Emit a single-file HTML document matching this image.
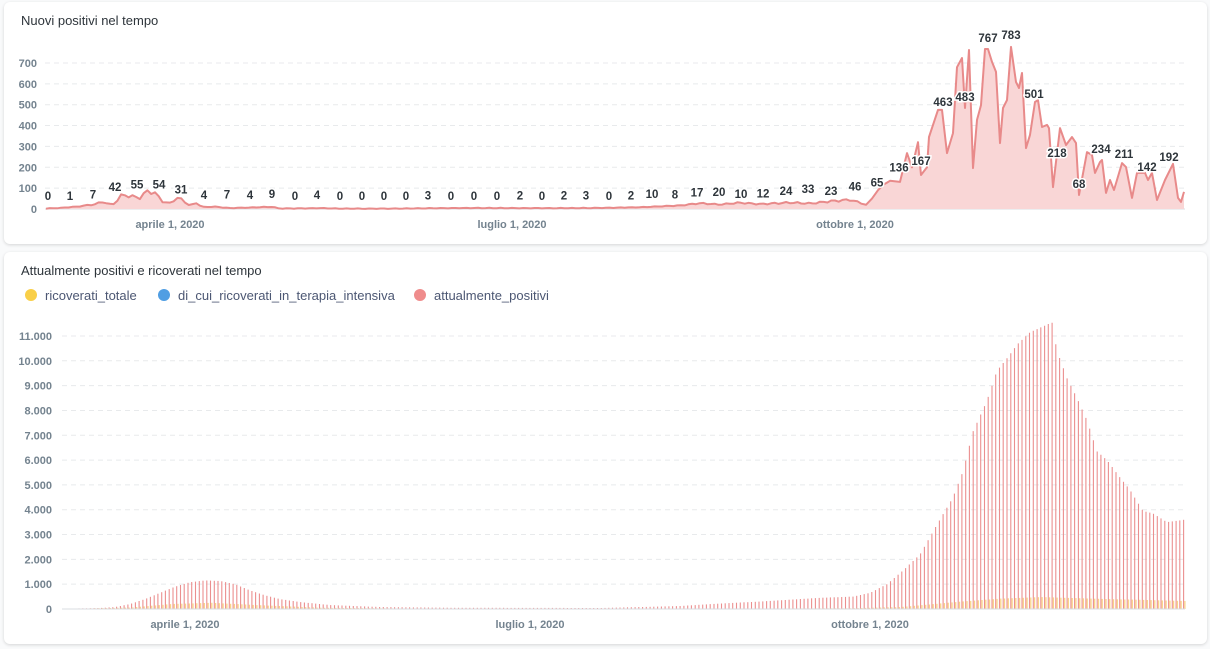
<!DOCTYPE html>
<html><head><meta charset="utf-8">
<style>
body{margin:0;background:#f9fafb;width:1210px;height:649px;overflow:hidden;font-family:"Liberation Sans",sans-serif}
.card{position:absolute;left:4px;width:1203px;background:#fff;border-radius:6px;box-shadow:0 1px 3px rgba(0,0,0,.15)}
svg{position:absolute;left:0;top:0}
</style></head><body>
<div class="card" style="top:2px;height:242px"></div>
<div class="card" style="top:252px;height:392px"></div>
<svg id="s" width="1210" height="649"></svg>
<script>
const NS='http://www.w3.org/2000/svg';const s=document.getElementById('s');
function el(t,a,txt){const e=document.createElementNS(NS,t);for(const k in a)e.setAttribute(k,a[k]);if(txt!==undefined)e.textContent=txt;s.appendChild(e);return e;}
function interp(A,x){if(x<=A[0][0])return A[0][1];for(let i=1;i<A.length;i++){if(x<=A[i][0]){const t=(x-A[i-1][0])/(A[i][0]-A[i-1][0]);return A[i-1][1]+t*(A[i][1]-A[i-1][1]);}}return A[A.length-1][1];}
el('text',{x:21,y:25,'font-size':13,fill:'#2e353b'},'Nuovi positivi nel tempo');
el('text',{x:21,y:275,'font-size':13,fill:'#2e353b'},'Attualmente positivi e ricoverati nel tempo');
[[31,'#f9cf48','ricoverati_totale'],[164,'#509ee3','di_cui_ricoverati_in_terapia_intensiva'],[420,'#ef8c8c','attualmente_positivi']].forEach(l=>{el('circle',{cx:l[0],cy:295,r:6,fill:l[1]});el('text',{x:l[0]+14,y:300,'font-size':13,fill:'#4c5773'},l[2]);});
const ty0=209,tk=0.2086;
for(let v=0;v<=700;v+=100){const y=ty0-v*tk;if(v>0)el('line',{x1:45,x2:1185,y1:y,y2:y,stroke:'#e8eaec','stroke-dasharray':'5 4'});el('text',{x:37,y:y+4,'font-size':11,'font-weight':'bold',fill:'#74838f','text-anchor':'end'},v);}
el('line',{x1:45,x2:1185,y1:ty0,y2:ty0,stroke:'#d8dde2'});
[[170,'aprile 1, 2020'],[512,'luglio 1, 2020'],[855,'ottobre 1, 2020']].forEach(a=>el('text',{x:a[0],y:228,'font-size':11,'font-weight':'bold',fill:'#74838f','text-anchor':'middle'},a[1]));
const TA=[[46,2],[60,5],[77,12],[95,25],[103,40],[112,20],[123,80],[130,68],[140,60],[148,95],[155,80],[163,35],[170,28],[178,55],[190,15],[197,28],[202,8],[215,10],[230,3],[250,6],[272,10],[280,2],[320,5],[340,3],[400,2],[500,4],[600,6],[640,8],[680,15],[700,25],[720,20],[740,30],[760,25],[790,35],[810,30],[830,40],[850,45],[866,20],[872,50],[878,90],[883,115],[890,135],[900,130],[907,268],[912,200],[918,320],[921,163],[927,200],[929,345],[938,475],[942,475],[947,268],[953,364],[957,680],[962,724],[965,484],[969,762],[973,196],[977,427],[981,498],[985,767],[988,767],[992,705],[996,657],[1000,316],[1003,484],[1007,522],[1011,777],[1016,609],[1019,580],[1022,652],[1026,292],[1030,355],[1035,513],[1038,522],[1042,393],[1047,403],[1049,388],[1053,105],[1060,388],[1066,307],[1072,345],[1076,316],[1079,67],[1087,273],[1092,259],[1095,173],[1100,225],[1102,235],[1106,77],[1110,139],[1114,91],[1122,220],[1126,201],[1132,53],[1137,173],[1145,173],[1148,139],[1152,173],[1157,43],[1165,139],[1173,216],[1178,53],[1181,34],[1184,82]];
let pts=[];for(let x=46;x<=1184;x+=3.757){let v=interp(TA,x);if(x<866){v+=((Math.sin(x*1.7)+Math.sin(x*0.53))*0.12)*Math.max(v,10);v=Math.max(0,v);}pts.push([x,v]);}
pts=pts.filter(p=>p[0]<866).concat(TA.filter(a=>a[0]>=866));
const line=pts.map(p=>p[0].toFixed(1)+','+(ty0-p[1]*tk).toFixed(1)).join(' ');
el('polygon',{points:'46,'+ty0+' '+line+' 1184,'+ty0,fill:'#f9d6d6'});
el('polyline',{points:line,fill:'none',stroke:'#e88a8a','stroke-width':2,'stroke-linejoin':'round'});
const labels=[[0,48],[1,70],[7,93],[42,115],[55,137],[54,159],[31,181],[4,204],[7,227],[4,250],[9,272],[0,295],[4,317],[0,340],[0,362],[0,384],[0,406],[3,428],[0,451],[0,474],[0,497],[2,520],[0,542],[2,564],[3,586],[0,609],[2,631],[10,652],[8,675],[17,697],[20,719],[10,741],[12,763],[24,786],[33,808],[23,831],[46,855],[65,877],[136,899],[167,921],[463,943,102],[483,965,97],[767,988,38],[783,1011,35],[501,1034,94],[218,1057,153],[68,1079,184],[234,1101,149],[211,1124,154],[142,1147,167],[192,1169,157]];
labels.forEach(l=>{let y=l[2]||Math.min(197,ty0-l[0]*tk-13);el('text',{x:l[1],y:y+4,'font-size':11.5,'font-weight':'bold',fill:'#2e353b','text-anchor':'middle',stroke:'#fff','stroke-width':3,'paint-order':'stroke'},l[0]);});
const by0=609,bk=0.02482;
for(let v=0;v<=11000;v+=1000){const y=by0-v*bk;if(v>0)el('line',{x1:62,x2:1185,y1:y,y2:y,stroke:'#e8eaec','stroke-dasharray':'5 4'});el('text',{x:52,y:y+4,'font-size':11,'font-weight':'bold',fill:'#74838f','text-anchor':'end'},v==0?'0':(v/1000)+'.000');}
[[185,'aprile 1, 2020'],[530,'luglio 1, 2020'],[870,'ottobre 1, 2020']].forEach(a=>el('text',{x:a[0],y:628,'font-size':11,'font-weight':'bold',fill:'#74838f','text-anchor':'middle'},a[1]));
const BA=[[62,0],[75,20],[100,40],[115,80],[130,200],[145,400],[160,650],[175,900],[190,1080],[205,1150],[220,1130],[235,1000],[250,750],[265,550],[280,400],[300,280],[330,160],[380,80],[450,50],[600,40],[680,120],[720,220],[760,300],[800,400],[820,450],[853,500],[870,650],[887,1000],[903,1550],[920,2200],[937,3400],[953,4500],[963,5550],[973,7150],[987,8400],[997,9600],[1007,10100],[1017,10650],[1030,11150],[1052,11550],[1057,10400],[1067,9300],[1077,8500],[1087,7600],[1097,6350],[1107,6000],[1120,5300],[1130,4800],[1143,3950],[1153,3850],[1167,3500],[1185,3600]];
const YA=[[62,0],[130,60],[170,200],[210,250],[260,150],[320,50],[400,20],[700,10],[850,30],[900,80],[960,300],[1000,420],[1040,480],[1090,420],[1185,320]];
for(let x=64;x<=1185;x+=3.757){const v=interp(BA,x),yv=interp(YA,x);el('line',{x1:x.toFixed(1),x2:x.toFixed(1),y1:by0,y2:(by0-v*bk).toFixed(1),stroke:'#eb8f8f','stroke-width':1.1});el('line',{x1:(x+1.3).toFixed(1),x2:(x+1.3).toFixed(1),y1:by0,y2:(by0-yv*bk).toFixed(1),stroke:'#f9d48a','stroke-width':1.3});}
el('line',{x1:62,x2:1185,y1:by0,y2:by0,stroke:'#d8dde2'});
</script>
</body></html>
